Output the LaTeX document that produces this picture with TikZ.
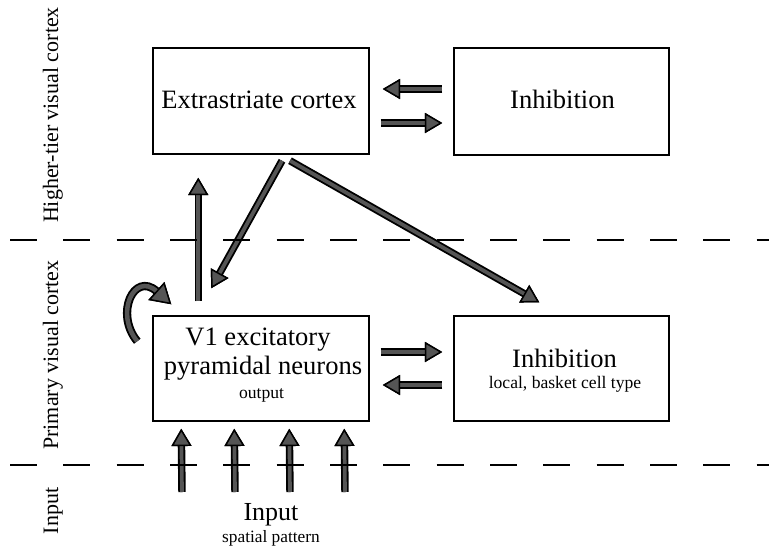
\documentclass[tikz,border=0pt]{standalone}
\usepackage{fontspec}
\setmainfont{Liberation Serif}
\usetikzlibrary{arrows.meta,calc}
\definecolor{agray}{RGB}{85,85,85}
\tikzset{
  box/.style={draw=black, line width=1.1pt, fill=white, inner sep=0pt},
  big/.style={inner sep=0pt, anchor=base, font=\fontsize{19.9}{22}\selectfont},
  small/.style={inner sep=0pt, anchor=base, font=\fontsize{13.2}{15}\selectfont},
  side/.style={inner sep=0pt, anchor=base, rotate=90, font=\fontsize{16.5}{19}\selectfont},
  fat/.style={draw=agray, line width=2.8pt,
    -{Triangle[length=13pt,width=15pt,color=black,fill=agray,line width=1.1pt]},
    preaction={draw=black, line width=5.6pt,
      -{Triangle[length=13pt,width=15pt,color=black,fill=black,line width=1.1pt]}}},
  fatcurve/.style={draw=agray, line width=3.4pt,
    -{Triangle[length=15pt,width=18pt,color=black,fill=agray,line width=1.1pt]},
    preaction={draw=black, line width=6.2pt,
      -{Triangle[length=15pt,width=18pt,color=black,fill=black,line width=1.1pt]}}},
  divider/.style={draw=black, line width=1.5pt, dash pattern=on 20.25pt off 19.75pt},
}
\begin{document}
\begin{tikzpicture}[x=0.75pt, y=-0.75pt]
\useasboundingbox (0,0) rectangle (769,551);

% boxes
\node[box, minimum width=162pt, minimum height=79.5pt] (ext) at (261,101) {};
\node[box, minimum width=161.25pt, minimum height=80.25pt] (inhT) at (561.5,101.5) {};
\node[box, minimum width=162pt, minimum height=78.75pt] (v1) at (261,368.5) {};
\node[box, minimum width=161.25pt, minimum height=78.75pt] (inhB) at (561.5,368.5) {};

% texts
\node[big] (extT) at (259,108) {Extrastriate cortex};
\node[big] (inhTT) at (562.5,108) {Inhibition};
\node[big] (v1a) at (258,345) {V1 excitatory};
\node[big] (v1b) at (263,374) {pyramidal neurons};
\node[small] (v1c) at (261.5,398) {output};
\node[big] (inhBa) at (564.5,367) {Inhibition};
\node[small] (inhBb) at (565,388) {local, basket cell type};
\node[big, font=\fontsize{19.5}{22}\selectfont] (inpA) at (271,520) {Input};
\node[small, font=\fontsize{13}{15}\selectfont] (inpB) at (271,542) {spatial pattern};

% side labels
\node[side] (lab1) at (58,115) {Higher-tier visual cortex};
\node[side] (lab2) at (58,355) {Primary visual cortex};
\node[side] (lab3) at (58,511) {Input};

% horizontal arrows
\draw[fat] ($(inhT.west)+(-11,-12.5)$) -- ($(ext.east)+(13,-12)$);
\draw[fat] ($(ext.east)+(11,22)$) -- ($(inhT.west)+(-11,21.5)$);
\draw[fat] ($(v1.east)+(11,-16.5)$) -- ($(inhB.west)+(-11,-16.5)$);
\draw[fat] ($(inhB.west)+(-11,16.5)$) -- ($(v1.east)+(13,16.5)$);

% vertical / diagonal arrows
\draw[fat] ($(v1.north west)+(46,-14)$) -- ($(ext.south west)+(46,23)$);
\draw[fat] ($(ext.south)+(21,6)$) -- ($(v1.north west)+(59,-27)$);
\draw[fat] ($(ext.south)+(29,6)$) -- ($(inhB.north west)+(86,-13)$);

% self loop
\draw[fatcurve] ($(v1.north west)+(-15,26)$) .. controls ($(v1.north west)+(-38,-2)$) and ($(v1.north west)+(-18,-44)$) .. ($(v1.north west)+(19,-11)$);

% inputs
\coordinate (in1) at (182,492);
\coordinate (in2) at (235,492);
\coordinate (in3) at (290,492);
\coordinate (in4) at (345,492);
\draw[fat] (in1) -- ($(v1.south west)+(29,7)$);
\draw[fat] (in2) -- ($(v1.south west)+(82,7)$);
\draw[fat] (in3) -- ($(v1.south west)+(137,7)$);
\draw[fat] (in4) -- ($(v1.south west)+(192,7)$);

% dividers
\draw[divider] (10,240) -- (769,240);
\draw[divider] (10,465) -- (769,465);
\end{tikzpicture}
\end{document}
